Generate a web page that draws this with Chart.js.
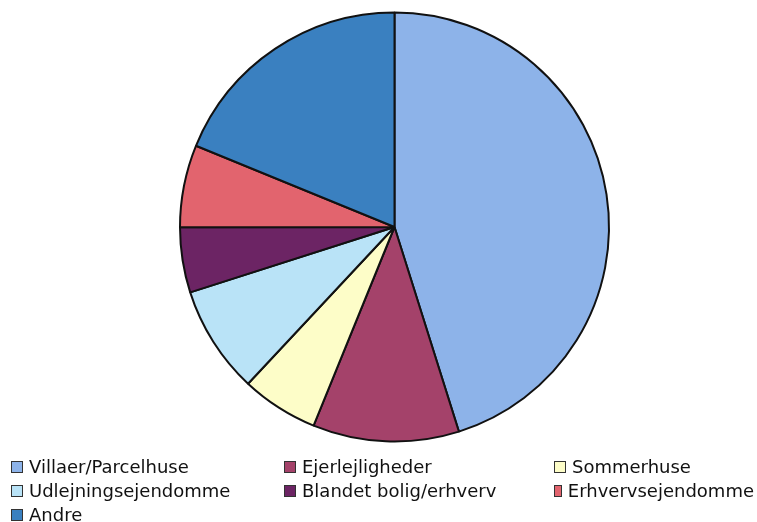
<!DOCTYPE html>
<html>
<head>
<meta charset="utf-8">
<script src="https://cdn.jsdelivr.net/npm/chart.js@4"></script>
<style>
   body { margin: 0; background: white; }
   #wrap { position: relative; width: 757px; height: 522px; overflow: hidden; }
   #chart1 { position: absolute; left: 0; top: 0; }
   #legend {
      position: absolute; left: 11px; top: 455px;
      display: grid; grid-template-columns: 273px 270px 200px;
      row-gap: 1px;
      font-family: "DejaVu Sans", Verdana, sans-serif; font-size: 18px; color: #111;
   }
   .item { display: flex; align-items: center; height: 23px; white-space: nowrap; }
   .box { width: 10px; height: 10px; border: 1.5px solid #333; margin-right: 6px; }
</style>
</head>
<body>
<div id="wrap">
   <canvas id="chart1" width="757" height="522"></canvas>
   <div id="legend"></div>
</div>
<script>
const labels = [
   "Villaer/Parcelhuse",
   "Ejerlejligheder",
   "Sommerhuse",
   "Udlejningsejendomme",
   "Blandet bolig/erhverv",
   "Erhvervsejendomme",
   "Andre",
];
const shares = [45.1, 11.0, 5.8, 8.1, 4.9, 6.2, 18.8];
const sliceColors = [
   `#8db3e9`,
   `#a4426a`,
   `#fdfdc8`,
   `#b9e3f7`,
   `#6c2464`,
   `#e2646e`,
   `#3a80c0`,
];

const legend = document.querySelector("#legend");
for (let i = 0; i < labels.length; i++) {
   const item = document.createElement("div");
   item.className = "item";
   const box = document.createElement("span");
   box.className = "box";
   box.style.backgroundColor = sliceColors[i];
   item.appendChild(box);
   item.appendChild(document.createTextNode(labels[i]));
   legend.appendChild(item);
}

const ctx = document.querySelector("#chart1");
const chart = new Chart(ctx, {
   type: 'pie',
   data: {
      labels: labels,
      datasets: [{
         data: shares,
         backgroundColor: sliceColors,
         borderColor: `#111`,
         borderWidth: 2,
      }]
   },
   options: {
      responsive: false,
      animation: false,
      layout: {
         padding: { top: 11, bottom: 79, left: 179, right: 147 }
      },
      plugins: {
         legend: { display: false },
         tooltip: { enabled: false }
      }
   }
});
</script>
</body>
</html>
